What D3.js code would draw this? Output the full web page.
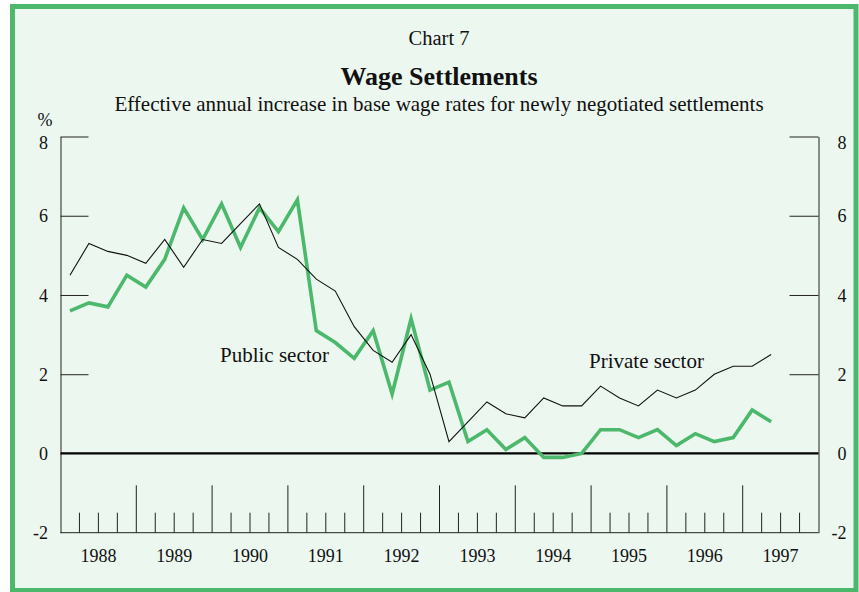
<!DOCTYPE html>
<html>
<head>
<meta charset="utf-8">
<script src="https://cdn.jsdelivr.net/npm/d3@7"></script>
<style>
  body { margin: 0; background: #ffffff; }
  svg text { font-family: "Liberation Serif", "Times New Roman", serif; fill: #111; }
</style>
</head>
<body>
<svg id="chart"></svg>
<script>
// Chart values (quarterly, 1988Q1 .. 1997Q2)
var years = [1988, 1989, 1990, 1991, 1992, 1993, 1994, 1995, 1996, 1997];
var yTicks = [8, 6, 4, 2, 0, -2];
var privateSector = [4.5, 5.3, 5.1, 5.0, 4.8, 5.4, 4.7, 5.4, 5.3, 5.8,
                     6.3, 5.2, 4.9, 4.4, 4.1, 3.2, 2.6, 2.3, 3.0, 2.0,
                     0.3, 0.8, 1.3, 1.0, 0.9, 1.4, 1.2, 1.2, 1.7, 1.4,
                     1.2, 1.6, 1.4, 1.6, 2.0, 2.2, 2.2, 2.5];
var publicSector = [3.6, 3.8, 3.7, 4.5, 4.2, 4.9, 6.2, 5.4, 6.3, 5.2,
                    6.2, 5.6, 6.4, 3.1, 2.8, 2.4, 3.1, 1.5, 3.4, 1.6,
                    1.8, 0.3, 0.6, 0.1, 0.4, -0.1, -0.1, 0.0, 0.6, 0.6,
                    0.4, 0.6, 0.2, 0.5, 0.3, 0.4, 1.1, 0.8];

var W = 859, H = 592;
var green = "#4cb86b";
var serif = "'Liberation Serif', 'Times New Roman', serif";

var svg = d3.select("#chart")
  .attr("width", W)
  .attr("height", H);

// framed panel
svg.append("rect")
  .attr("x", 12.5).attr("y", 6.5)
  .attr("width", 843.5).attr("height", 584)
  .attr("fill", "#ecf7ef")
  .attr("stroke", green)
  .attr("stroke-width", 5);

// scales: time in years, points sit in the middle of each quarter
var x = d3.scaleLinear().domain([1988, 1998]).range([60.5, 818.5]);
var y = d3.scaleLinear().domain([-2, 8]).range([532.7, 136.5]);

// quarter categories built from the year list
var quarters = [];
years.forEach(function(yr) {
  [0, 1, 2, 3].forEach(function(q) { quarters.push(yr + q / 4); });
});
var pointDates = quarters.slice(0, publicSector.length).map(function(d) { return d + 0.125; });

// titles
svg.append("text").attr("x", 439).attr("y", 45)
  .attr("text-anchor", "middle").style("font-size", "20.5px").text("Chart 7");
svg.append("text").attr("x", 439).attr("y", 85)
  .attr("text-anchor", "middle").style("font-size", "26px").style("font-weight", "bold")
  .text("Wage Settlements");
svg.append("text").attr("x", 439).attr("y", 111)
  .attr("text-anchor", "middle").style("font-size", "21px")
  .text("Effective annual increase in base wage rates for newly negotiated settlements");
svg.append("text").attr("x", 45).attr("y", 126)
  .attr("text-anchor", "middle").style("font-size", "18px").text("%");

// left and right axes
var fmt = function(d) { return String(d); };
var left = svg.append("g")
  .attr("transform", "translate(" + x.range()[0] + ",0)")
  .call(d3.axisLeft(y).tickValues(yTicks).tickFormat(fmt)
    .tickSizeInner(-28).tickSizeOuter(0).tickPadding(12.5));
var right = svg.append("g")
  .attr("transform", "translate(" + x.range()[1] + ",0)")
  .call(d3.axisRight(y).tickValues(yTicks).tickFormat(fmt)
    .tickSizeInner(-29).tickSizeOuter(0).tickPadding(28));

[left, right].forEach(function(g) {
  g.attr("font-family", serif).attr("font-size", 18);
  g.select(".domain").attr("stroke", "#222");
  g.selectAll(".tick line")
    .attr("stroke", "#222")
    .style("display", function(d) { return d <= 0 ? "none" : null; });
  g.selectAll(".tick text")
    .style("font-family", serif)
    .style("font-size", "18px")
    .attr("fill", "#111")
    .attr("dy", function(d) { return d === 8 ? "0.68em" : "0.34em"; });
});
right.selectAll(".tick text").attr("text-anchor", "end");

// bottom line and zero line
svg.append("line")
  .attr("x1", x.range()[0]).attr("x2", x.range()[1])
  .attr("y1", y(-2)).attr("y2", y(-2))
  .attr("stroke", "#222");
svg.append("line")
  .attr("x1", x.range()[0]).attr("x2", x.range()[1])
  .attr("y1", y(0)).attr("y2", y(0))
  .attr("stroke", "#000").attr("stroke-width", 2.2);

// quarter ticks (tall at year boundaries)
svg.selectAll(".qtick")
  .data(quarters.filter(function(d) { return d > 1988; }))
  .enter().append("line")
  .attr("class", "qtick")
  .attr("x1", function(d) { return x(d); })
  .attr("x2", function(d) { return x(d); })
  .attr("y1", y(-2))
  .attr("y2", function(d) { return d % 1 === 0 ? y(-2) - 47.4 : y(-2) - 20; })
  .attr("stroke", "#222");

// year labels
svg.selectAll(".year")
  .data(years)
  .enter().append("text")
  .attr("class", "year")
  .attr("x", function(d) { return x(d + 0.5); })
  .attr("y", 562)
  .attr("text-anchor", "middle")
  .style("font-size", "18px")
  .text(function(d) { return d; });

// series
var line = d3.line()
  .x(function(d, i) { return x(pointDates[i]); })
  .y(function(d) { return y(d); });

svg.append("path")
  .datum(publicSector)
  .attr("d", line)
  .attr("fill", "none")
  .attr("stroke", green)
  .attr("stroke-width", 3.6);

svg.append("path")
  .datum(privateSector)
  .attr("d", line)
  .attr("fill", "none")
  .attr("stroke", "#111")
  .attr("stroke-width", 1.1);

// series labels
svg.append("text").attr("x", 220).attr("y", 362)
  .style("font-size", "21px").text("Public sector");
svg.append("text").attr("x", 589).attr("y", 368)
  .style("font-size", "21px").text("Private sector");
</script>
</body>
</html>
